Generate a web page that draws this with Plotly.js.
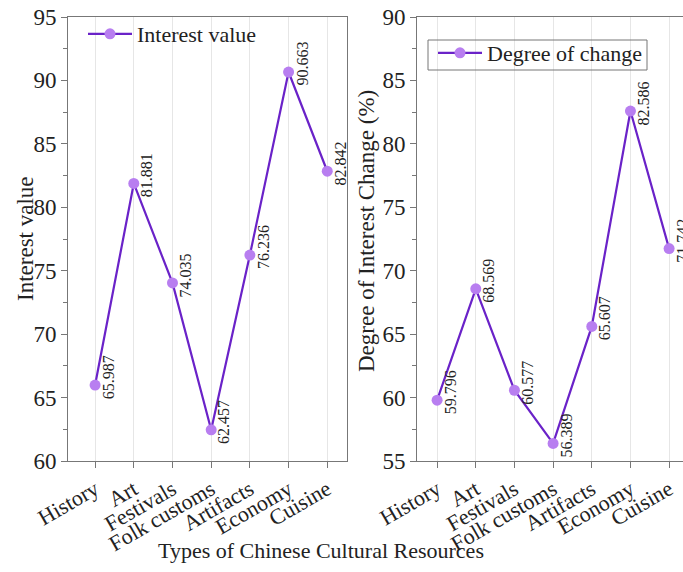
<!DOCTYPE html>
<html>
<head>
<meta charset="utf-8">
<script src="https://cdn.plot.ly/plotly-3.0.1.min.js"></script>
<style>
html, body { margin: 0; padding: 0; overflow: hidden; background: #fff; }
#chart { width: 690px; height: 572px; }
</style>
</head>
<body>
<div id="chart"></div>
<script>
const categories = ["History", "Art", "Festivals", "Folk customs", "Artifacts", "Economy", "Cuisine"];
const interestValue = [65.987, 81.881, 74.035, 62.457, 76.236, 90.663, 82.842];
const degreeOfChange = [59.796, 68.569, 60.577, 56.389, 65.607, 82.586, 71.742];
const seriesNames = ["Interest value", "Degree of change"];
const yTitles = ["Interest value", "Degree of Interest Change (%)"];
const xTitle = "Types of Chinese Cultural Resources";

const FONT = '"Liberation Serif", "Times New Roman", serif';
const LINE = '#6a22c8';
const MARK = '#b87ef0';
const W = 690, T = 17, B = 461;
const px = v => v / W;
const py = v => (B - v) / (B - T);

const traces = [
  {
    x: categories, y: interestValue, name: seriesNames[0], type: 'scatter', mode: 'lines+markers',
    line: { color: LINE, width: 2.2 }, marker: { color: MARK, size: 11 },
    xaxis: 'x', yaxis: 'y', legend: 'legend'
  },
  {
    x: categories, y: degreeOfChange, name: seriesNames[1], type: 'scatter', mode: 'lines+markers',
    line: { color: LINE, width: 2.2 }, marker: { color: MARK, size: 11 },
    xaxis: 'x2', yaxis: 'y2', legend: 'legend2'
  }
];

const annotations = [];
function addLabels(vals, xr, yr) {
  vals.forEach((v, i) => {
    annotations.push({
      x: categories[i], y: v, xref: xr, yref: yr, text: v.toFixed(3),
      textangle: -90, showarrow: false, xshift: 13, yshift: 8,
      font: { family: FONT, size: 16, color: '#222' }
    });
  });
}
addLabels(interestValue, 'x', 'y');
addLabels(degreeOfChange, 'x2', 'y2');

annotations.push({ xref: 'paper', yref: 'paper', x: px(25), y: py(239), text: yTitles[0], textangle: -90,
  showarrow: false, font: { family: FONT, size: 23, color: '#222' }, xanchor: 'center', yanchor: 'middle' });
annotations.push({ xref: 'paper', yref: 'paper', x: px(367), y: py(231), text: yTitles[1], textangle: -90,
  showarrow: false, font: { family: FONT, size: 23, color: '#222' }, xanchor: 'center', yanchor: 'middle' });
annotations.push({ xref: 'paper', yref: 'paper', x: px(321), y: py(550), text: xTitle,
  showarrow: false, font: { family: FONT, size: 22, color: '#222' }, xanchor: 'center', yanchor: 'middle' });

function xAxis(domain, range) {
  return {
    domain: domain, type: 'category', range: range,
    tickmode: 'array', tickvals: categories, ticktext: categories,
    tickangle: -30, tickfont: { family: FONT, size: 22, color: '#222' },
    showgrid: true, gridcolor: '#e6e6e6', gridwidth: 1,
    showline: true, linecolor: '#777', linewidth: 1, mirror: true,
    ticks: 'outside', ticklen: 6, tickcolor: '#777', zeroline: false
  };
}
function yAxis(range, anchor) {
  return {
    range: range, dtick: 5, tick0: 0, anchor: anchor,
    tickfont: { family: FONT, size: 23, color: '#222' },
    showgrid: false, zeroline: false,
    showline: true, linecolor: '#777', linewidth: 1, mirror: true,
    ticks: 'outside', ticklen: 6, tickcolor: '#777',
    minor: { dtick: 2.5, ticks: 'outside', ticklen: 4, tickcolor: '#777', showgrid: false }
  };
}

const layout = {
  width: W, height: 572,
  margin: { l: 0, r: 0, t: T, b: 572 - B },
  paper_bgcolor: '#fff', plot_bgcolor: '#fff',
  font: { family: FONT, color: '#222' },
  xaxis: xAxis([px(68), px(347)], [-0.7, 6.51]),
  yaxis: yAxis([60, 95], 'x'),
  xaxis2: xAxis([px(417), 1], [-0.52, 6.54]),
  yaxis2: yAxis([55, 90], 'x2'),
  showlegend: true,
  legend: {
    x: px(83), y: py(13), xanchor: 'left', yanchor: 'top', itemwidth: 44,
    bgcolor: 'rgba(255,255,255,0)', borderwidth: 0,
    font: { family: FONT, size: 22, color: '#222' }
  },
  legend2: {
    x: px(433), y: py(32), xanchor: 'left', yanchor: 'top', itemwidth: 44,
    bgcolor: 'rgba(255,255,255,0)', borderwidth: 0,
    font: { family: FONT, size: 22, color: '#222' }
  },
  shapes: [{
    type: 'rect', xref: 'paper', yref: 'paper',
    x0: px(428), x1: px(647), y0: py(40), y1: py(70),
    line: { color: '#777', width: 1 }, fillcolor: 'rgba(0,0,0,0)', layer: 'above'
  }],
  annotations: annotations
};
layout.xaxis.anchor = 'y';
layout.xaxis2.anchor = 'y2';

Plotly.newPlot('chart', traces, layout, { displayModeBar: false, staticPlot: true });
</script>
</body>
</html>
